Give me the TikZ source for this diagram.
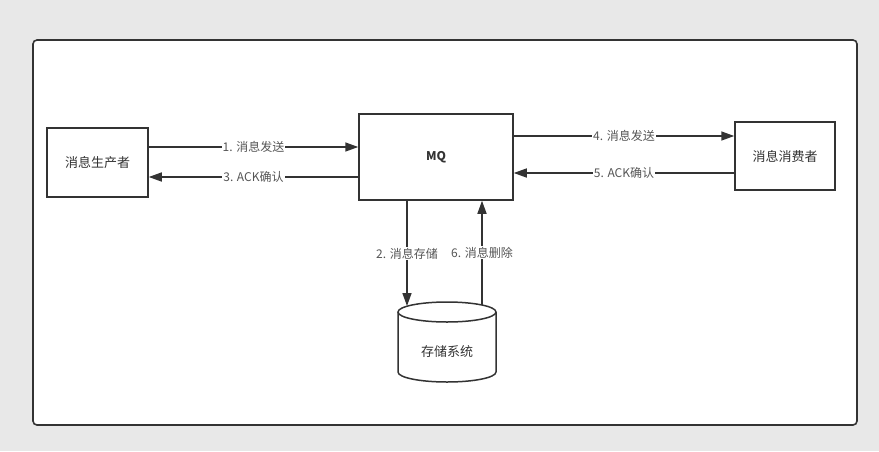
\documentclass[tikz,border=0pt]{standalone}
\usepackage{fontspec}
\setmainfont{Noto Sans CJK SC}
\usepackage{tikz}
\usetikzlibrary{arrows.meta}
\definecolor{bgGray}{HTML}{E8E8E8}
\definecolor{lineGray}{HTML}{333333}
\definecolor{textGray}{HTML}{555555}

\begin{document}
\begin{tikzpicture}[x=1pt, y=-1pt,
    box/.style={rectangle, draw=lineGray, line width=1.5pt, fill=white, font=\fontsize{13}{15}\selectfont, text=lineGray},
    arr/.style={draw=lineGray, line width=1.5pt, -{Triangle[length=13pt,width=9pt]}},
    lbl/.style={fill=white, inner sep=1pt, text=textGray, font=\fontsize{12}{14}\selectfont}]
    \useasboundingbox (0,0) rectangle (879,451);
    % Frame
    \fill[bgGray] (0,0) rectangle (879,451);
    \draw[lineGray, line width=1.6pt, fill=white, rounded corners=4pt] (33,40) rectangle (857,425);

    % Nodes
    \node[box, minimum width=101pt, minimum height=69pt] (producer) at (97.5,162.5) {消息生产者};
    \node[box, minimum width=154pt, minimum height=86pt, font=\fontsize{12}{14}\selectfont\bfseries] (mq) at (436,157) {MQ};
    \node[box, minimum width=100pt, minimum height=68pt] (consumer) at (785,156) {消息消费者};

    % Storage cylinder
    \draw[lineGray, line width=1.5pt, fill=white] (398,312) -- (398,372) arc[start angle=180, end angle=0, x radius=49, y radius=10] -- (496,312);
    \draw[lineGray, line width=1.5pt, fill=white] (447,312) ellipse [x radius=49, y radius=10];
    \node[text=lineGray, font=\fontsize{13}{15}\selectfont] (store) at (447,352) {存储系统};
    \coordinate (storeIn) at (407,306);
    \coordinate (storeOut) at (482,305);

    % Arrows
    \draw[arr] (producer.east |- 0,147) -- node[lbl] {1. 消息发送} (mq.west |- 0,147);
    \draw[arr] (mq.west |- 0,177) -- node[lbl] {3. ACK确认} (producer.east |- 0,177);
    \draw[arr] (mq.east |- 0,136) -- node[lbl] {4. 消息发送} (consumer.west |- 0,136);
    \draw[arr] (consumer.west |- 0,173) -- node[lbl] {5. ACK确认} (mq.east |- 0,173);
    \draw[arr] (mq.south -| storeIn) -- node[lbl] {2. 消息存储} (storeIn);
    \draw[arr] (storeOut) -- node[lbl] {6. 消息删除} (mq.south -| storeOut);
\end{tikzpicture}
\end{document}
